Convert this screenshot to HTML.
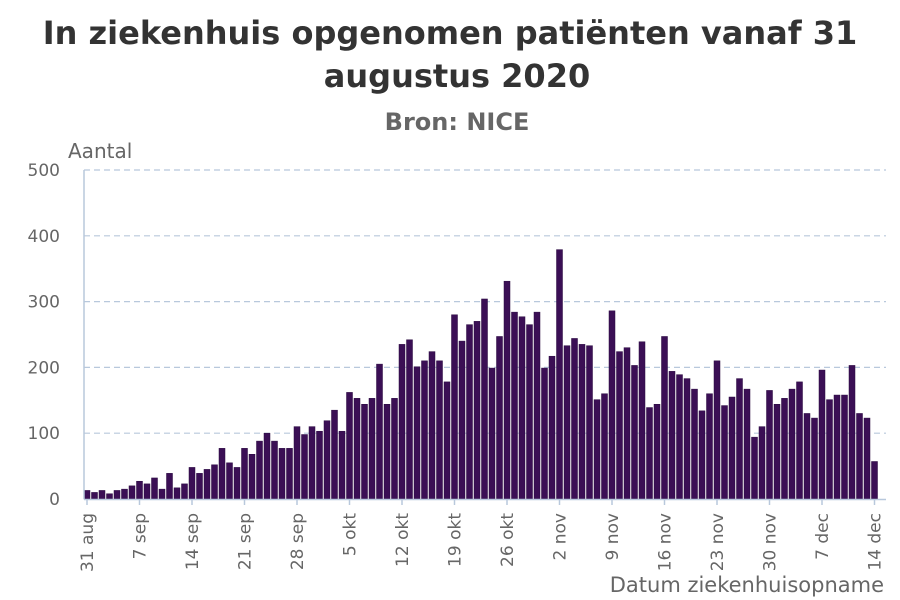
<!DOCTYPE html>
<html><head><meta charset="utf-8"><style>
html,body{margin:0;padding:0;background:#fff;width:900px;height:600px;overflow:hidden}
svg{display:block;font-family:"DejaVu Sans","Liberation Sans",sans-serif}
</style></head><body>
<svg id="chart" width="900" height="600" viewBox="0 0 900 600">
<text x="450" y="44" text-anchor="middle" font-size="32" font-weight="bold" fill="#333">In ziekenhuis opgenomen patiënten vanaf 31</text>
<text x="457" y="87" text-anchor="middle" font-size="32" font-weight="bold" fill="#333">augustus 2020</text>
<text x="457" y="130" text-anchor="middle" font-size="24" font-weight="bold" fill="#666">Bron: NICE</text>
<text x="68" y="158" font-size="20" fill="#666">Aantal</text>
<text x="884" y="592" text-anchor="end" font-size="21" fill="#666">Datum ziekenhuisopname</text>
<g id="grid"></g><g id="bars"></g><g id="axes"></g>
</svg>
<script>
const values=[13,10,13,8,13,15,20,27,23,32,15,39,17,23,48,39,45,52,77,55,48,77,68,88,100,88,77,77,110,98,110,103,119,135,103,162,153,144,153,205,144,153,235,242,201,210,224,210,178,280,240,265,270,304,199,247,331,284,277,265,284,199,217,379,233,244,235,233,151,160,286,224,230,203,239,139,144,247,194,189,183,167,134,160,210,142,155,183,167,94,110,165,144,153,167,178,130,123,196,151,158,158,203,130,123,57];
const yTicks=[0,100,200,300,400,500];
const xTickLabels=["31 aug","7 sep","14 sep","21 sep","28 sep","5 okt","12 okt","19 okt","26 okt","2 nov","9 nov","16 nov","23 nov","30 nov","7 dec","14 dec"];
const NS="http://www.w3.org/2000/svg";
const x0=87,dx=7.5,yBase=499,yTop=170,yMax=500;
const xs=i=>x0+dx*i;
const ys=v=>yBase-(v/yMax)*(yBase-yTop);
function mk(tag,attrs,parent){const e=document.createElementNS(NS,tag);for(const k in attrs)e.setAttribute(k,attrs[k]);parent.appendChild(e);return e;}
const grid=document.getElementById('grid'),bars=document.getElementById('bars'),axes=document.getElementById('axes');
yTicks.forEach(t=>{
 if(t>0){const l=mk('line',{x1:84,x2:886,y1:ys(t),y2:ys(t),stroke:'#b8c8dc','stroke-width':1.2,'stroke-dasharray':'6,4'},grid);
 
 }
 const tx=mk('text',{x:60,y:ys(t)+6,'text-anchor':'end','font-size':17,fill:'#666'},axes);tx.textContent=t;
 
 
});
values.forEach((v,i)=>{
 const r=mk('rect',{x:xs(i)-3,y:ys(v),width:6,height:yBase-ys(v),fill:'#3b0f55',stroke:'#2a0a40','stroke-width':0.5},bars);
 
 
});
const ax=mk('line',{x1:84,x2:886,y1:yBase+0.5,y2:yBase+0.5,stroke:'#b8c8dc','stroke-width':1.5},axes);


const ay=mk('line',{x1:84,x2:84,y1:yTop,y2:yBase,stroke:'#b8c8dc','stroke-width':1.5},axes);


xTickLabels.forEach((lab,k)=>{
 const x=xs(k*7);
 const tk=mk('line',{x1:x,x2:x,y1:yBase,y2:yBase+6,stroke:'#b8c8dc','stroke-width':1.5},axes);
 
 
 const t=mk('text',{x:0,y:0,'text-anchor':'end','font-size':17,fill:'#666',transform:`translate(${x+6},${yBase+14}) rotate(-90)`},axes);
 t.textContent=lab;
 
 
});
</script>
</body></html>
